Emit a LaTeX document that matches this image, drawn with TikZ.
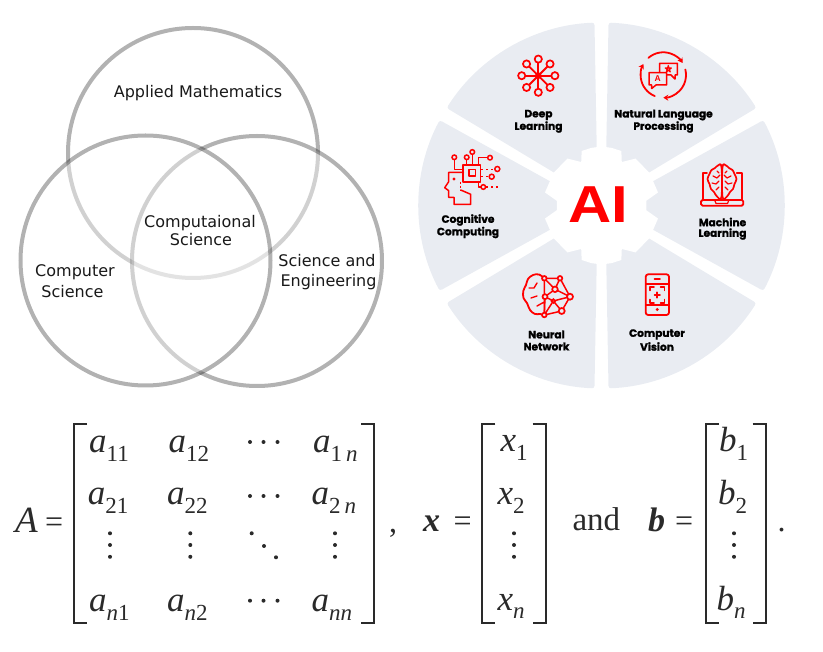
\documentclass[tikz,border=0pt]{standalone}
\usepackage{fontspec}
\usepackage{graphicx}
\usetikzlibrary{arrows.meta}
\setmainfont{DejaVu Sans}
\newfontfamily\mtxf{Liberation Serif}
\newfontfamily\labf[BoldFeatures={FakeBold=1.4}]{Poppins}
\newfontfamily\aif{Liberation Sans}
\newcommand{\fA}{\mtxf\itshape\fontsize{35}{35}\selectfont}
\newcommand{\fS}{\mtxf\upshape\fontsize{23}{23}\selectfont}
\newcommand{\fN}{\itshape}
\definecolor{wheel}{HTML}{E9ECF2}
\definecolor{ink}{HTML}{2A2A2A}
\tikzset{
  venn/.style={draw=black,draw opacity=.3,line width=4pt,fill=white,fill opacity=.4},
  vlab/.style={font=\fontsize{16}{16}\selectfont,inner sep=0pt,text=black!90},
  wlab/.style={font=\labf\bfseries\fontsize{10.6}{10.6}\selectfont,inner sep=0pt,text=black},
  ico/.style={draw=red,line width=1.8pt,line join=round,line cap=round},
  icd/.style={draw=red,line width=1.7pt,fill=wheel},
  mtxt/.style={anchor=base west,inner sep=0pt,text=ink},
  brk/.style={draw=ink,line width=1.7pt},
  dotg/.style={fill=ink,draw=none},
}
\newcommand{\ment}[5]{\node[mtxt] (#1) at (#2,#3) {\fA #4\raisebox{-8.5pt}{\fS #5}};}
\newcommand{\brL}[1]{\draw[brk] (#1+13,424.3) -- (#1,424.3) -- (#1,623.3) -- (#1+13,623.3);}
\newcommand{\brR}[1]{\draw[brk] (#1-13,424.3) -- (#1,424.3) -- (#1,623.3) -- (#1-13,623.3);}
\newcommand{\mdot}[2]{\fill[dotg] (#1,#2) circle[radius=2];}
\newcommand{\vd}[1]{\mdot{#1}{533.3}\mdot{#1}{545}\mdot{#1}{556.8}}
\newcommand{\hd}[1]{\mdot{250}{#1}\mdot{263.5}{#1}\mdot{277.5}{#1}}
\begin{document}
\begin{tikzpicture}[x=1pt,y=-1pt]
\useasboundingbox (0,0) rectangle (823,652);
% Venn
\path[venn] (193,153) circle[radius=125];
\path[venn] (257,261) circle[radius=125];
\path[venn] (145.5,260.5) circle[radius=125];
\node[vlab] (vtop) at (198,93) {Applied Mathematics};
\node[vlab] (vmid1) at (200,223.5) {Computaional};
\node[vlab] (vmid2) at (201,239.5) {Science};
\node[vlab] (vl1) at (75,272.5) {Computer};
\node[vlab] (vl2) at (72.5,291.5) {Science};
\node[vlab] (vr1) at (327,260.5) {Science and};
\node[vlab] (vr2) at (328.5,282) {Engineering};
% Wheel
\begin{scope}[shift={(601.5,205.5)}]
\foreach \a in {30,90,...,330}{
  \fill[wheel,rounded corners=2.5pt] (\a+5.5:48) -- (\a+2.2:183)
     arc[start angle=\a+2.2,end angle=\a+57.8,radius=183] -- (\a+54.5:48) -- cycle;
}
\fill[white] (70:58) -- (80:58.5) -- (90:59) -- (100:58.5) -- (110:58) -- (115:48)
 -- (126:58) -- (146:58) -- (167:58) -- (174:45) -- (186:45)
 -- (193:58) -- (214:58) -- (234:58) -- (245:48) -- (250:58) -- (260:58.5) -- (270:59) -- (280:58.5) -- (290:58)
 -- (295:48) -- (306:58) -- (326:58) -- (347:58) -- (354:45) -- (6:45)
 -- (13:58) -- (34:58) -- (54:58) -- (65:48) -- cycle;
\end{scope}
\node[inner sep=0pt,text=red] (ai) at (598,204.5) {\scalebox{1.15}[1]{\aif\bfseries\fontsize{52}{52}\selectfont AI}};
% wheel labels
\node[wlab] (l1a) at (538.5,115) {Deep};
\node[wlab] (l1b) at (538.5,127) {Learning};
\node[wlab] (l2a) at (663.5,115) {Natural Language};
\node[wlab] (l2b) at (663.5,127) {Processing};
\node[wlab] (l3a) at (722.5,222) {Machine};
\node[wlab] (l3b) at (722.5,234) {Learning};
\node[wlab] (l4a) at (657,334.5) {Computer};
\node[wlab] (l4b) at (657,346.5) {Vision};
\node[wlab] (l5a) at (546.5,334.5) {Neural};
\node[wlab] (l5b) at (546.5,346.5) {Network};
\node[wlab] (l6a) at (468,220) {Cognitive};
\node[wlab] (l6b) at (468,232.5) {Computing};
% Deep learning icon
\begin{scope}[shift={(538.3,75.7)}]
\foreach \a in {0,45,...,315}{
  \draw[ico] (0,0) -- (\a:13);
  \draw[icd] (\a:16.6) circle[radius=3.6];
}
\fill[red] (0,0) circle[radius=3.4];
\end{scope}
% NLP icon
\begin{scope}[shift={(663.3,75)}]
\draw[ico,-{Stealth[length=5pt,width=6pt]}] (229:22.7) arc[start angle=229,end angle=328,radius=22.7];
\draw[ico,-{Stealth[length=5pt,width=6pt]}] (346:22.7) arc[start angle=346,end angle=450,radius=22.7];
\draw[ico,-{Stealth[length=5pt,width=6pt]}] (112:22.7) arc[start angle=112,end angle=209,radius=22.7];
\end{scope}
\draw[ico,line width=1.5pt] (659.5,72) -- (659.5,63.3) -- (677.3,63.3) -- (677.3,75) -- (675,75) -- (675,79) -- (671,75) -- (667,75);
\draw[ico,line width=1.5pt,fill=wheel] (649,72.7) -- (666.7,72.7) -- (666.7,85) -- (656,85) -- (651.7,88.5) -- (651.7,85) -- (649,85) -- cycle;
\node[inner sep=0pt,text=red] (nlpa) at (657.8,79) {\aif\bfseries\fontsize{8.5}{8.5}\selectfont A};
\draw[ico,line width=1.1pt] (668.3,65.5) -- (670.3,72) -- (665.2,68) -- (671.4,68) -- (666.3,72) -- cycle;
% Machine learning icon
\draw[ico] (707,173.3) -- (702.7,173.3) -- (702.7,200);
\draw[ico] (736.7,173.3) -- (741.7,173.3) -- (741.7,200);
\draw[ico,rounded corners=1.5pt] (701,200) rectangle (743.3,205.7);
\draw[ico,line width=1.2pt] (715,201) -- (716,203.5) -- (727.5,203.5) -- (728.5,201);
\draw[ico,fill=wheel,line width=1.7pt] plot[smooth cycle,tension=.6] coordinates {(721.5,167) (718,165.5) (715,168) (711.5,170) (709.5,174) (707.5,179) (709.5,184) (711,189) (714,192) (717,196.5) (721.5,197)};
\draw[ico,fill=wheel,line width=1.7pt] plot[smooth cycle,tension=.6] coordinates {(722.5,167) (726,165.5) (729,168) (732.5,170) (734.5,174) (736.5,179) (734.5,184) (733,189) (730,192) (727,196.5) (722.5,197)};
\draw[ico,line width=1.2pt] (713,176) -- (717,178) -- (720,175) (712,183) -- (716,184) -- (719,181) (716,190) -- (719,187) (717,171) -- (719,173);
\draw[ico,line width=1.2pt] (731,176) -- (727,178) -- (724,175) (732,183) -- (728,184) -- (725,181) (728,190) -- (725,187) (727,171) -- (725,173);
% Phone icon
\draw[ico,rounded corners=2.5pt] (645.7,274.3) rectangle (669,315);
\draw[ico,line width=1.4pt] (645.7,284) -- (669,284) (645.7,305) -- (669,305);
\draw[ico] (654.5,279.3) -- (660,279.3);
\fill[red] (657.2,309.5) circle[radius=1.7];
\draw[ico,line width=1.5pt] (650,290.5) -- (650,287) -- (654,287) (660.5,287) -- (664.5,287) -- (664.5,290.5)
  (664.5,299.5) -- (664.5,303) -- (660.5,303) (654,303) -- (650,303) -- (650,299.5);
\draw[ico,line width=1.5pt] (654.5,295) -- (660,295) (657.2,292.2) -- (657.2,297.8);
% Neural icon
\draw[ico] plot[smooth,tension=.6] coordinates {(544.3,278.3) (539,274.5) (533,275) (528,279) (526,285) (523.3,291) (523.5,298) (527,303) (530,310) (535,314) (540,314) (544.3,315)};
\draw[ico,line width=1.4pt] (544.3,278.3) -- (544.3,315) (537,283) -- (534,288) -- (529,288) (537,296) -- (531,298) (544.3,302) -- (537,306);
\draw[ico,line width=1.5pt] (544.3,278.3) -- (560,278.3) -- (555,289.3) -- (544.3,278.3)
  (560,278.3) -- (570,296.7) -- (561.7,311) -- (544.3,315) -- (553.3,301) -- (545,296.7) -- (555,289.3) -- (570,296.7) -- (553.3,301) -- (561.7,311) (545,296.7) -- (544.3,315);
\foreach \p/\r in {{(544.3,278.3)}/2.3,{(560,278.3)}/2.3,{(555,289.3)}/2.8,{(545,296.7)}/2.5,{(570,296.7)}/3,{(553.3,301)}/1.8,{(544.3,315)}/2.3,{(561.7,311)}/3}{
  \draw[icd] \p circle[radius=\r];
}
% Cognitive icon
\draw[ico,line width=1.5pt] (454.3,160) -- (454.3,169.3) -- (463.3,169.3)
  (466.7,160) -- (466.7,165) (472.3,154.5) -- (472.3,165)
  (478.3,165) -- (478.3,157.7) -- (487,157.7)
  (478.3,181.7) -- (478.3,187) -- (481,187);
\draw[ico,line width=1.5pt,dash pattern=on 2pt off 3pt,line cap=butt] (481,169.3) -- (494,169.3) (481,176.7) -- (489,176.7) (486,187) -- (500,187);
\draw[ico] (463.3,165) rectangle (480.5,181.7);
\draw[ico] (469.3,169.5) rectangle (475.5,175.7);
\foreach \p/\r in {{(472.3,152)}/2.3,{(454.3,157.3)}/2.3,{(466.7,157.3)}/2.3,{(490,157.7)}/2.3,{(497.3,169)}/2.5,{(491.7,176.7)}/2.5,{(483.3,187)}/2.3}{
  \draw[icd,line width=1.5pt] \p circle[radius=\r];
}
\draw[ico,line width=1.5pt] (463.3,172.3) -- (448.7,172.3) -- (448.7,181.7) -- (444.7,187.7) -- (448.7,190.7) -- (448.7,197.3) -- (454,197.3) -- (454,204.3) -- (470.7,204.3) -- (470.7,194.3) -- (460.7,190);
\draw[ico,line width=1.5pt,dash pattern=on 2pt off 2pt,line cap=butt] (460.7,181.7) -- (460.7,190);
\fill[red] (454,179) circle[radius=1.7];
% Matrix A
\node[mtxt] (mA) at (15,532.7) {\mtxf\itshape\fontsize{37}{37}\selectfont A};
\node[mtxt] (meq1) at (45,532.7) {\mtxf\fontsize{32}{32}\selectfont =};
\brL{74}\brR{374}
\ment{a11}{89}{452.7}{a}{11}
\ment{a12}{168.5}{452.7}{a}{12}
\ment{a1n}{313}{452.7}{a}{1\,{\fN n}}
\ment{a21}{87.7}{505}{a}{21}
\ment{a22}{167}{505}{a}{22}
\ment{a2n}{311.5}{505}{a}{2\,{\fN n}}
\ment{an1}{89}{611.7}{a}{{\fN n}1}
\ment{an2}{167}{611.7}{a}{{\fN n}2}
\ment{ann}{311.5}{611.7}{a}{{\fN nn}}
\hd{442}\hd{496}\hd{600.7}
\vd{110}\vd{190.3}\vd{335}
\mdot{251.7}{533.3}\mdot{264}{546}\mdot{276}{557.3}
\node[mtxt] (mcomma) at (389,532.7) {\mtxf\fontsize{32}{32}\selectfont ,};
% x vector
\node[mtxt] (mx) at (423,531.7) {\mtxf\bfseries\itshape\fontsize{34}{34}\selectfont x};
\node[mtxt] (meq2) at (453.5,531.7) {\mtxf\fontsize{32}{32}\selectfont =};
\brL{482.3}\brR{545.7}
\ment{x1}{500.5}{451.7}{x}{1}
\ment{x2}{497.5}{505}{x}{2}
\ment{xn}{497.5}{610}{x}{{\fN n}}
\vd{514}
\node[mtxt] (mand) at (572.3,531) {\mtxf\fontsize{33}{33}\selectfont and};
% b vector
\node[mtxt] (mb) at (648,531.7) {\mtxf\bfseries\itshape\fontsize{34}{34}\selectfont b};
\node[mtxt] (meq3) at (675,531.7) {\mtxf\fontsize{32}{32}\selectfont =};
\brL{706}\brR{765.7}
\ment{b1}{719}{451.7}{b}{1}
\ment{b2}{718}{505}{b}{2}
\ment{bn}{716.5}{610}{b}{{\fN n}}
\vd{734}
\node[mtxt] (mper) at (777.5,531.7) {\mtxf\fontsize{32}{32}\selectfont .};
\end{tikzpicture}
\end{document}
